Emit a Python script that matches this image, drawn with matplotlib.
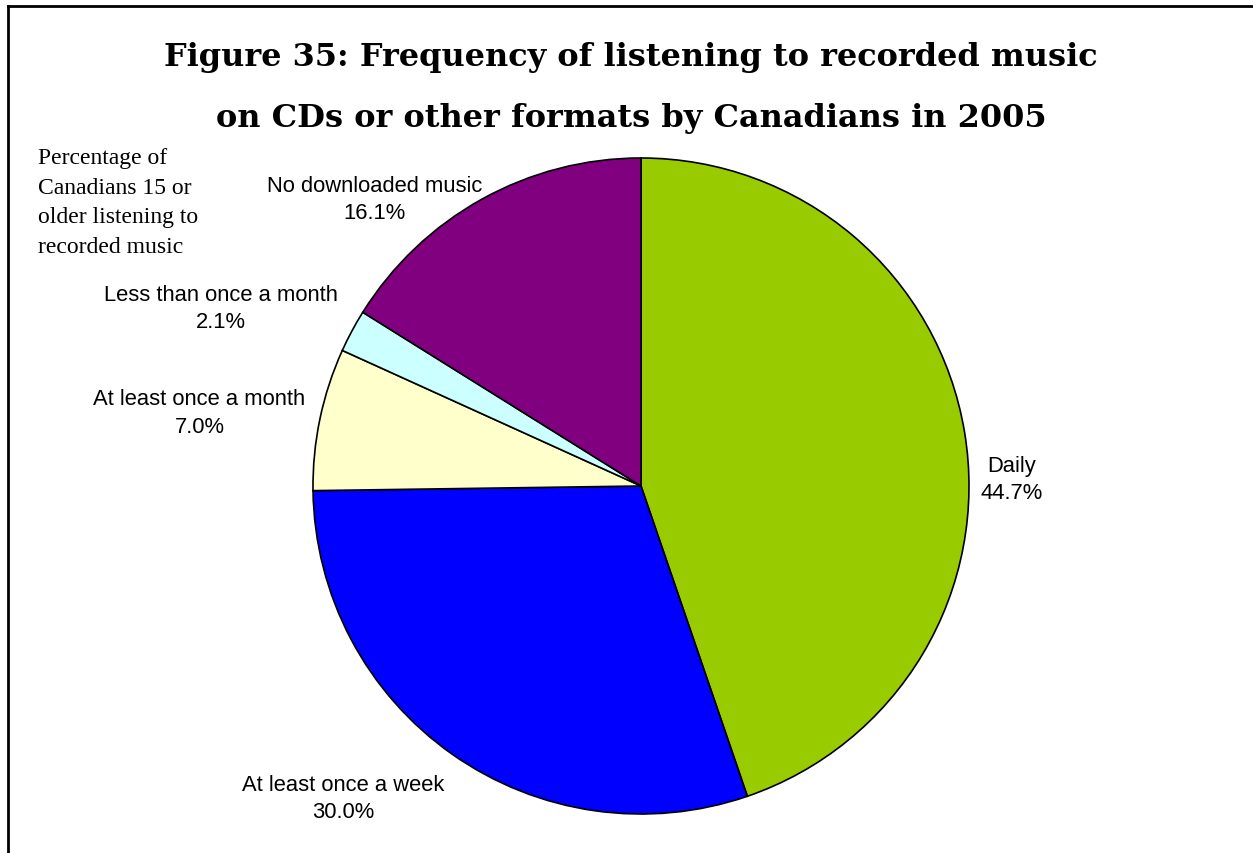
import matplotlib
matplotlib.use("Agg")
import matplotlib.pyplot as plt
from matplotlib.lines import Line2D

# Data
categories = ["Daily", "At least once a week", "At least once a month",
              "Less than once a month", "No downloaded music"]
values = [44.7, 30.0, 7.0, 2.1, 16.1]
colors = ["#99CC00", "#0000FF", "#FFFFCC", "#CCFFFF", "#800080"]

title_lines = ["Figure 35: Frequency of listening to recorded music",
               "on CDs or other formats by Canadians in 2005"]
side_lines = ["Percentage of", "Canadians 15 or", "older listening to",
              "recorded music"]

# Label positions (data units, pie radius = 1)
label_pos = [(1.131, 0.021), (-0.909, -0.951), (-1.346, 0.223),
             (-1.280, 0.543), (-0.811, 0.875)]

W, H = 1253, 854
fig = plt.figure(figsize=(W / 100, H / 100), dpi=100)
fig.patch.set_facecolor("white")

cx, cy, r = 641, 487, 328
ax = fig.add_axes([(cx - r) / W, (H - cy - r) / H, 2 * r / W, 2 * r / H])
ax.pie(values, colors=colors, startangle=90, counterclock=False, radius=1,
       wedgeprops=dict(edgecolor="black", linewidth=1.2))
ax.set_xlim(-1, 1)
ax.set_ylim(-1, 1)
ax.set_aspect("equal")
ax.axis("off")

for cat, val, (lx, ly) in zip(categories, values, label_pos):
    ax.text(lx, ly, f"{cat}\n{val:.1f}%", ha="center", va="center",
            fontsize=15.8, family="Liberation Sans", linespacing=1.42,
            clip_on=False)

for line, base in zip(title_lines, [66, 127]):
    fig.text(631 / W, 1 - base / H, line, ha="center", va="baseline",
             fontsize=23, fontweight="bold", family="DejaVu Serif")

for line, base in zip(side_lines, [164, 194, 223, 253]):
    fig.text(38 / W, 1 - base / H, line, ha="left", va="baseline",
             fontsize=17, family="Liberation Serif")

# Frame lines
fig.add_artist(Line2D([8 / W, 1], [1 - 7 / H, 1 - 7 / H], color="black",
                      linewidth=2, transform=fig.transFigure))
fig.add_artist(Line2D([8 / W, 8 / W], [0, 1 - 7 / H], color="black",
                      linewidth=2, transform=fig.transFigure))

fig.savefig("out.png", dpi=100)
